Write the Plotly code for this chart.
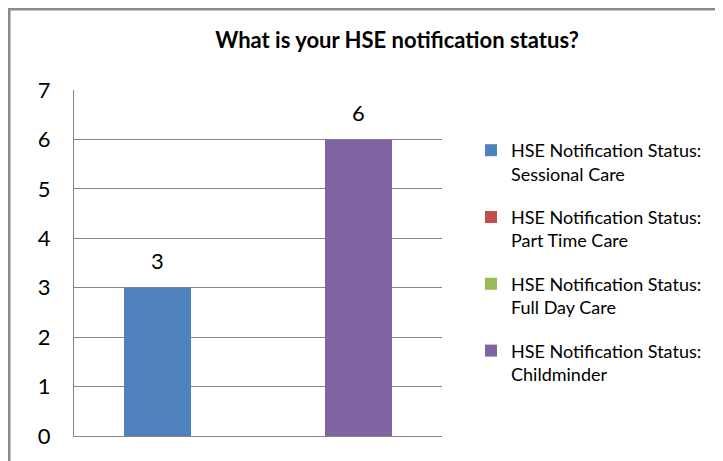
import plotly.graph_objects as go

categories = ["HSE notification status"]
series_names = [
    "HSE Notification Status: Sessional Care",
    "HSE Notification Status: Part Time Care",
    "HSE Notification Status: Full Day Care",
    "HSE Notification Status: Childminder",
]
legend_labels = [
    "HSE Notification Status:<br>Sessional Care",
    "HSE Notification Status:<br>Part Time Care",
    "HSE Notification Status:<br>Full Day Care",
    "HSE Notification Status:<br>Childminder",
]
series_values = [3, 0, 0, 6]
series_colors = ["#4F81BD", "#C0504D", "#9BBB59", "#8064A2"]
y_ticks = [0, 1, 2, 3, 4, 5, 6, 7]

FONT = "Lato, 'Open Sans', sans-serif"
OFF = 8  # page body margin
W, H = 723 - OFF, 461 - OFF
L, T = 74 - OFF, 90 - OFF
R = W - (442 - OFF)
B = H - (436 - OFF)
pw, ph = W - L - R, H - T - B
BARGAP = 100 / pw
n = len(series_values)
bar_px = pw * (1 - BARGAP) / n

fig = go.Figure()
annotations = []
for i, (lab, v, c) in enumerate(zip(legend_labels, series_values, series_colors)):
    fig.add_trace(go.Bar(
        x=categories, y=[v], name=lab, marker=dict(color=c, line=dict(width=0)),
        legendgroup=f"g{i}", hoverinfo="skip",
    ))
    if v:
        annotations.append(dict(
            x=0, y=v, xref="x", yref="y", text=str(v), showarrow=False,
            xshift=(i - (n - 1) / 2) * bar_px, yshift=27, yanchor="middle",
            font=dict(family=FONT, size=22, color="#000000"),
        ))

fig.update_layout(
    width=W, height=H,
    margin=dict(l=L, r=R, t=T, b=B, autoexpand=False),
    paper_bgcolor="white", plot_bgcolor="white",
    barmode="group", bargap=BARGAP, bargroupgap=0,
    title=dict(text="<b>What is your HSE notification status?</b>",
               x=(397 - OFF) / W, xanchor="center", y=1 - (40 - OFF) / H, yanchor="middle",
               font=dict(family=FONT, size=22, color="#000000")),
    font=dict(family=FONT, color="#000000"),
    legend=dict(x=(463 - L) / pw, xanchor="left", y=(ph - (124 - T)) / ph, yanchor="top",
                valign="top", tracegroupgap=17, font=dict(family=FONT, size=18, color="#000000"),
                bgcolor="rgba(0,0,0,0)", itemclick=False, itemdoubleclick=False),
    showlegend=True,
    xaxis=dict(type="category", range=[-0.5, 0.5], showticklabels=False, showgrid=False,
               zeroline=False, showline=True, linecolor="#868686", linewidth=1, ticks=""),
    yaxis=dict(range=[0, 7], tickvals=y_ticks, showgrid=True, gridcolor="#868686", gridwidth=1,
               zeroline=False, showline=True, linecolor="#868686", linewidth=1,
               ticks="outside", ticklen=0, ticklabelstandoff=18,
               tickfont=dict(family=FONT, size=22, color="#000000")),
    annotations=annotations,
    shapes=[dict(type="rect", xref="paper", yref="paper",
                 x0=(1 - L) / pw, x1=(W + 20 - L) / pw,
                 y0=-(B + 20) / ph, y1=1 + (T - 1) / ph,
                 line=dict(color="#8a8a8a", width=3), layer="below")],
)

fig.write_html("out.html")
